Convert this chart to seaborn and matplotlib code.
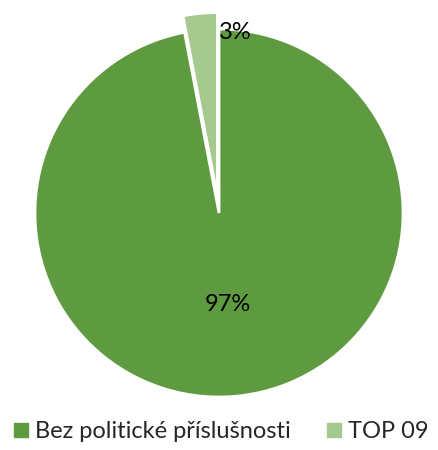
import matplotlib.pyplot as plt
import seaborn as sns
from matplotlib.lines import Line2D

labels = ["Bez politické příslušnosti", "TOP 09"]
values = [97, 3]
colors = ["#5e9a3f", "#a5c98f"]

sns.set_theme(style="white")
plt.rcParams['font.family'] = ['Lato', 'DejaVu Sans']

fig = plt.figure(figsize=(4.38, 4.5), dpi=100)
ax = fig.add_axes([0, 0, 1, 1])

wedges, texts, autotexts = ax.pie(
    values, colors=colors, startangle=90, counterclock=False,
    explode=[0, 0.09], autopct="%1.0f%%", pctdistance=0.5,
    wedgeprops=dict(edgecolor="white", linewidth=2),
    textprops=dict(fontsize=17, color="black"))

# small slice label sits near the rim, to the right of 12 o'clock
autotexts[1].set_position((0.09, 0.98))

ax.set_xlim(-1.19, 1.19)
ax.set_ylim(-1.288, 1.158)
ax.set_aspect('auto')
ax.axis('off')

handles = [Line2D([0], [0], marker='s', linestyle='', markersize=9.5,
                  markerfacecolor=c, markeredgecolor=c) for c in colors]
fig.legend(handles, labels, loc='lower center', ncol=2, frameon=False,
           fontsize=17, handletextpad=0.3, columnspacing=1.5,
           handlelength=0.6, bbox_to_anchor=(0.505, -0.03))

fig.savefig("out.png", dpi=100)
